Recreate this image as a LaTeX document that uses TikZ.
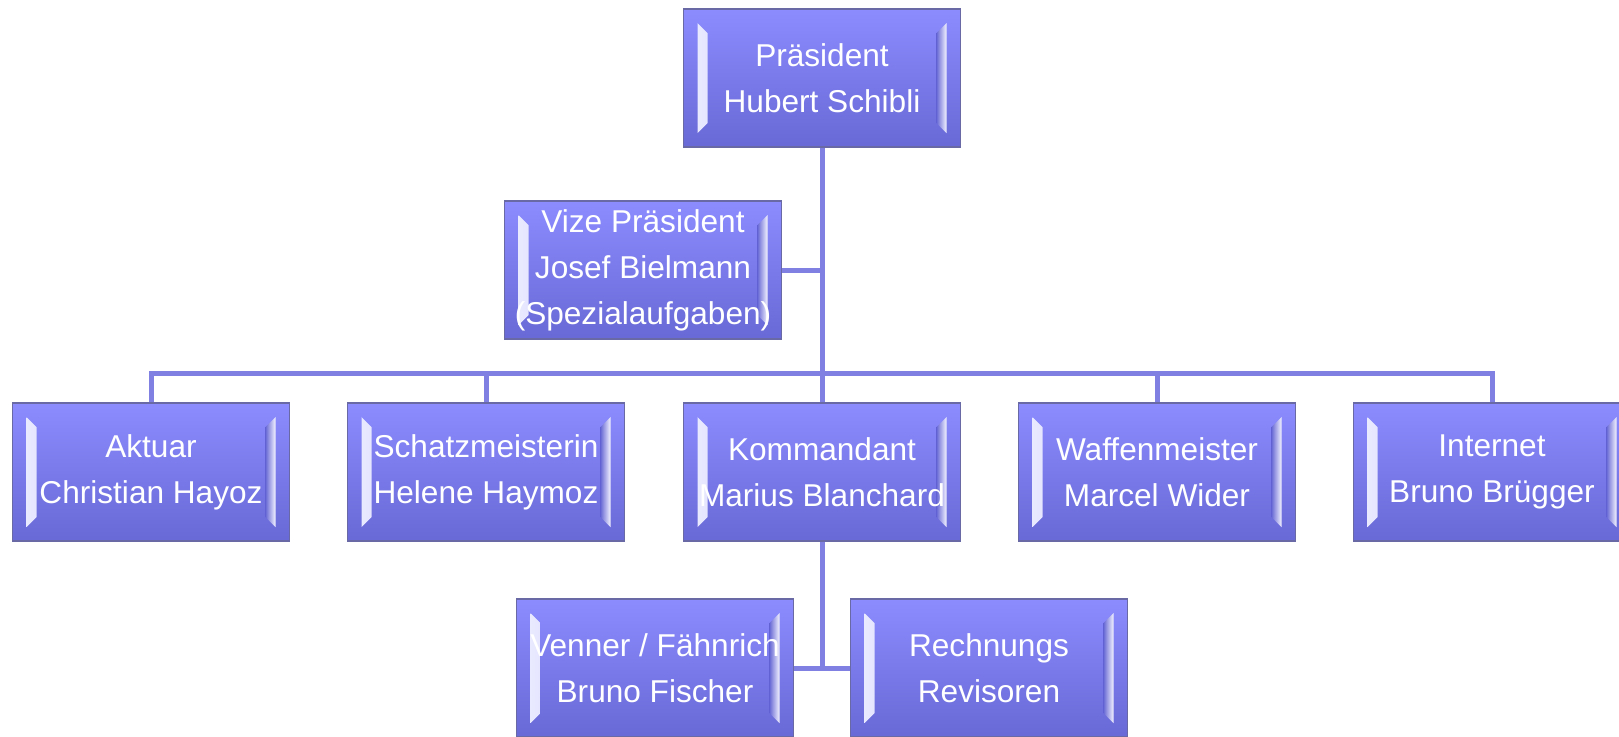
\documentclass[tikz,border=0pt]{standalone}
\usepackage{fontspec}
\setmainfont{Liberation Sans}
\definecolor{boxtop}{RGB}{140,140,255}
\definecolor{boxbot}{RGB}{104,104,214}
\definecolor{boxline}{RGB}{105,105,165}
\definecolor{linkcol}{RGB}{128,128,226}

\begin{document}
\begin{tikzpicture}[x=0.5pt,y=-0.5pt]
        % Define styles
        \tikzset{
            orgbox/.style={rectangle, draw=boxline, line width=0.6pt, top color=boxtop, bottom color=boxbot,
                minimum width=138.5pt, minimum height=69pt, inner sep=0pt, align=center, text=white,
                font=\fontsize{15.8pt}{23pt}\selectfont,
                path picture={
                    \shade[left color=white!85!boxtop, right color=boxtop]
                        ([xshift=7pt,yshift=-7pt]path picture bounding box.north west) -- ++(5pt,-5pt)
                        -- ([xshift=12pt,yshift=12pt]path picture bounding box.south west) -- ++(-5pt,-5pt) -- cycle;
                    \shade[left color=boxbot, right color=white!90!boxtop]
                        ([xshift=-7pt,yshift=-7pt]path picture bounding box.north east) -- ++(-5pt,-5pt)
                        -- ([xshift=-12pt,yshift=12pt]path picture bounding box.south east) -- ++(5pt,-5pt) -- cycle;
                }},
            link/.style={draw=linkcol, line width=2.5pt, line join=miter}
        }
        \useasboundingbox (0,0) rectangle (1619,736);

        % Nodes
        \node[orgbox] (praesident) at (822,78) {Präsident\\Hubert Schibli};
        \node[orgbox] (vize) at (643,270) {Vize Präsident\\Josef Bielmann\\(Spezialaufgaben)};
        \node[orgbox] (aktuar) at (151,472) {Aktuar\\Christian Hayoz};
        \node[orgbox] (schatz) at (486,472) {Schatzmeisterin\\Helene Haymoz};
        \node[orgbox] (kommandant) at (822,472) {Kommandant\\Marius Blanchard};
        \node[orgbox] (waffen) at (1157,472) {Waffenmeister\\Marcel Wider};
        \node[orgbox] (internet) at (1492,472) {Internet\\Bruno Brügger};
        \node[orgbox] (venner) at (655,668) {Venner / Fähnrich\\Bruno Fischer};
        \node[orgbox] (revisoren) at (989,668) {Rechnungs\\Revisoren};
        \coordinate (bar) at (822,373);

        % Lines
        \begin{scope}[on background layer/.try]
        \draw[link] (praesident.south) -- (kommandant.north);
        \draw[link] (vize.east) -- (vize.east -| praesident.south);
        \draw[link] (aktuar.north) |- (bar) -| (internet.north);
        \draw[link] (schatz.north) -- (schatz.north |- bar);
        \draw[link] (waffen.north) -- (waffen.north |- bar);
        \draw[link] (kommandant.south) -- (kommandant.south |- venner.east);
        \draw[link] (venner.east) -- (revisoren.west);
        \end{scope}
    \end{tikzpicture}
\end{document}
